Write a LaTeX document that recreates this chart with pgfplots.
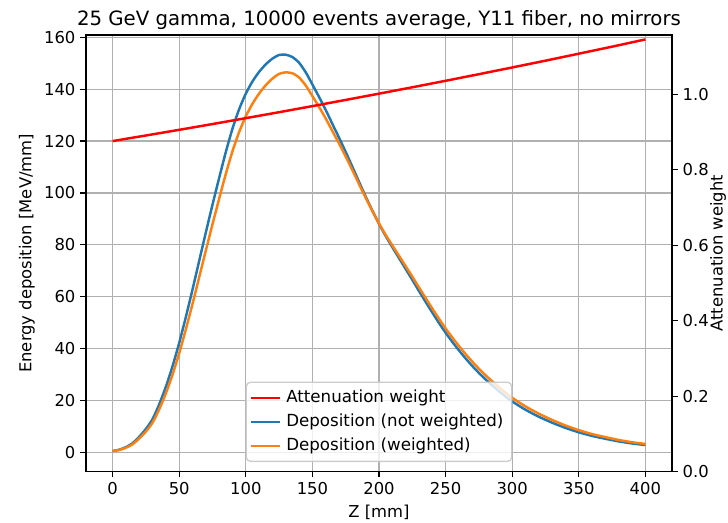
\documentclass[border=0pt]{standalone}
\usepackage{pgfplots}
\usepackage{pgfplotstable}
\pgfplotsset{compat=1.18}
\usepackage{fontspec}
\setmainfont{DejaVu Sans}
\definecolor{mblue}{HTML}{1F77B4}
\definecolor{morange}{HTML}{FF7F0E}
\definecolor{gridgray}{HTML}{B0B0B0}
\definecolor{leggray}{HTML}{CCCCCC}

\pgfplotstableread{
z b o
0 0.5 0.44
5 1.0 0.88
10 2.0 1.76
15 3.5 3.10
20 6.0 5.33
25 9.0 8.02
30 12.8 11.44
35 18.5 16.59
40 25.3 22.76
45 33.2 29.97
50 42.2 38.22
55 52.2 47.44
60 62.8 57.27
65 73.8 67.53
70 84.8 77.85
75 95.5 87.97
80 105.8 97.78
85 115.8 107.38
90 124.8 116.11
95 132.3 123.51
100 138.3 129.55
105 143.0 134.39
110 146.7 138.34
115 149.6 141.55
120 151.8 144.10
125 153.2 145.92
130 153.3 146.51
135 152.4 146.14
140 150.2 144.51
145 146.5 141.43
150 141.8 137.35
155 137.0 133.15
160 132.0 128.71
165 126.6 123.86
170 121.3 119.08
175 115.8 114.06
180 110.1 108.81
185 104.3 103.42
190 98.6 98.10
195 93.2 93.04
200 88.1 88.24
205 83.4 83.82
210 79.1 79.76
215 74.9 75.78
220 70.7 71.77
225 66.5 67.73
230 62.2 63.57
235 58.0 59.47
240 53.9 55.45
245 49.9 51.51
250 46.1 47.75
255 42.6 44.27
260 39.3 40.98
265 36.2 37.87
270 33.3 34.96
275 30.6 32.23
280 28.1 29.70
285 25.8 27.36
290 23.6 25.11
295 21.5 22.95
300 19.6 20.99
310 16.4 17.68
320 13.7 14.87
330 11.4 12.46
340 9.4 10.34
350 7.7 8.53
360 6.3 7.02
370 5.2 5.84
380 4.2 4.75
390 3.4 3.87
400 2.8 3.21
}\deposition

\pgfplotstableread{
z w
0 0.8760
25 0.8908
50 0.9058
75 0.9211
100 0.9367
125 0.9525
150 0.9686
175 0.9850
200 1.0016
225 1.0185
250 1.0357
275 1.0532
300 1.0710
325 1.0890
350 1.1075
375 1.1261
400 1.1453
}\weight

\begin{document}
\begin{tikzpicture}
\path[use as bounding box] (-61.9pt,-36.2pt) rectangle (462.2pt,339.6pt);
\pgfplotsset{
  common/.style={
    scale only axis, width=421.9pt, height=314.4pt,
    xmin=-20, xmax=420,
    tick align=outside, major tick length=4.1pt,
    every tick/.style={black, line width=0.94pt},
    axis line style={black, line width=0.94pt, -},
    tick label style={font=\fontsize{11.8}{14}\selectfont, text=black},
    /pgf/number format/assume math mode=true,
  }
}
\begin{axis}[
  common,
  ymin=-7.5, ymax=160.9,
  xtick={0,50,...,400}, ytick={0,20,...,160},
  tick pos=left,
  grid=major, grid style={gridgray, line width=0.9pt},
  xlabel={Z [mm]}, ylabel={Energy deposition [MeV/mm]},
  every axis x label/.style={at={(axis description cs:0.5,0)}, yshift=-29.4pt, anchor=center,
    font=\fontsize{11.8}{14}\selectfont, text=black},
  every axis y label/.style={at={(axis description cs:0,0.5)}, xshift=-42.5pt, rotate=90, anchor=center,
    font=\fontsize{11.8}{14}\selectfont, text=black},
  title={25 GeV gamma, 10000 events average, Y11 fiber, no mirrors},
  every axis title/.style={at={(axis description cs:0.5,1)}, anchor=base, yshift=6.8pt,
    font=\fontsize{14.2}{17}\selectfont, text=black},
]
\addplot[mblue, line width=1.77pt, smooth, tension=0.4] table[x=z, y=b] {\deposition};
\addplot[morange, line width=1.77pt, smooth, tension=0.4] table[x=z, y=o] {\deposition};
\end{axis}
\begin{axis}[
  common,
  ymin=0, ymax=1.157,
  hide x axis, axis y line*=right,
  ytick={0,0.2,0.4,0.6,0.8,1.0},
  yticklabel style={/pgf/number format/.cd, fixed, fixed zerofill, precision=1},
  ylabel={Attenuation weight},
  every axis y label/.style={at={(axis description cs:1,0.5)}, xshift=33.1pt, rotate=90, anchor=center,
    inner sep=0pt, font=\fontsize{11.8}{14}\selectfont, text=black},
  legend cell align=left,
  legend image code/.code={\draw[#1] (0pt,0pt) -- (21pt,0pt);},
  legend style={at={(axis description cs:0.5,0)}, anchor=south, yshift=7pt,
    draw=leggray, line width=0.94pt, rounded corners=3pt,
    fill=white, fill opacity=0.8, text opacity=1, draw opacity=1,
    font=\fontsize{12}{14}\selectfont,
    inner xsep=2.7pt, inner ysep=2.5pt, row sep=0pt,
    nodes={inner xsep=3.3pt, inner ysep=2.85pt, text height=9pt, text depth=2.6pt}},
]
\addplot[red, line width=1.77pt] table[x=z, y=w] {\weight};
\addlegendentry{Attenuation weight}
\addlegendimage{mblue, line width=1.77pt}
\addlegendentry{Deposition (not weighted)}
\addlegendimage{morange, line width=1.77pt}
\addlegendentry{Deposition (weighted)}
\end{axis}
\end{tikzpicture}
\end{document}
